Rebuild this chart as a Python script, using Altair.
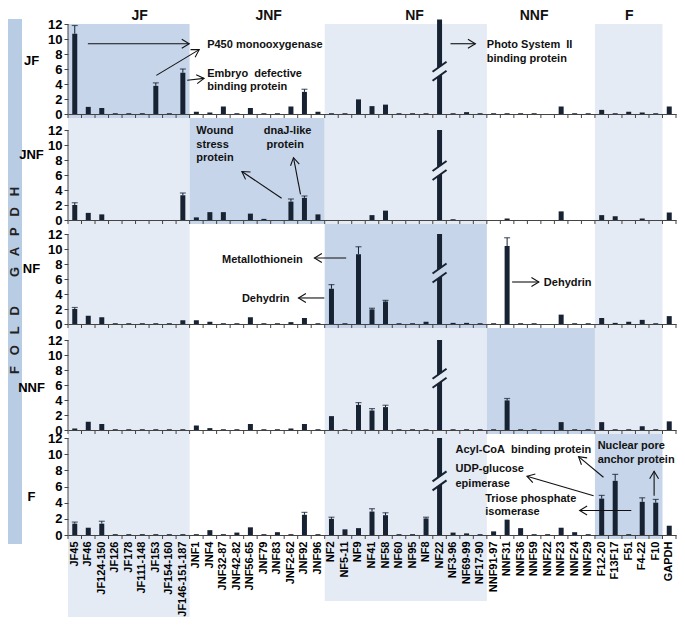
import math
import altair as alt
import pandas as pd

# ---------------- data ----------------
categories = ["JF45", "JF46", "JF124-150", "JF126", "JF178", "JF111-148", "JF153", "JF154-160", "JF146-151-187",
              "JNF1", "JNF4", "JNF32-87", "JNF42-82", "JNF56-65", "JNF79", "JNF83", "JNF2-62", "JNF92", "JNF96",
              "NF2", "NF5-11", "NF9", "NF41", "NF58", "NF60", "NF95", "NF8", "NF22", "NF3-96", "NF69-99", "NF17-90",
              "NNF91-97", "NNF31", "NNF36", "NNF59", "NNF22", "NNF23", "NNF24", "NNF29",
              "F12-20", "F13F17", "F51", "F4-22", "F10", "GAPDH"]

group_names = ["JF", "JNF", "NF", "NNF", "F"]
group_sizes = [9, 10, 12, 8, 5]
group_shaded = [True, False, True, False, True]
header_x = [5.3, 14.85, 25.65, 34.5, 41.55]

row_names = ["JF", "JNF", "NF", "NNF", "F"]

fold_JF = [10.7, 0.95, 0.8, 0.1, 0.1, 0.1, 3.75, 0.1, 5.5,
           0.3, 0.2, 1.0, 0.1, 0.8, 0.1, 0.1, 1.0, 2.95, 0.3,
           0.1, 0.1, 1.95, 1.05, 1.25, 0.1, 0.1, 0.1, 12.6, 0.1, 0.25, 0.1,
           0.1, 0.1, 0.1, 0.1, 0.0, 1.0, 0.1, 0.1,
           0.55, 0.1, 0.3, 0.2, 0.1, 1.0]
fold_JNF = [2.0, 0.95, 0.75, 0.0, 0.0, 0.0, 0.0, 0.0, 3.3,
            0.35, 1.05, 1.05, 0.0, 0.85, 0.15, 0.0, 2.45, 2.95, 0.75,
            0.0, 0.0, 0.0, 0.65, 1.25, 0.0, 0.0, 0.0, 12.0, 0.1, 0.0, 0.0,
            0.0, 0.2, 0.0, 0.0, 0.0, 1.15, 0.0, 0.0,
            0.65, 0.5, 0.0, 0.2, 0.0, 1.0]
fold_NF = [2.0, 1.1, 0.9, 0.1, 0.1, 0.1, 0.1, 0.1, 0.5,
           0.5, 0.3, 0.1, 0.1, 0.9, 0.1, 0.1, 0.25, 0.8, 0.1,
           4.7, 0.1, 9.3, 1.95, 3.0, 0.1, 0.1, 0.3, 12.0, 0.15, 0.15, 0.1,
           0.1, 10.4, 0.1, 0.1, 0.0, 1.25, 0.1, 0.1,
           0.8, 0.15, 0.3, 0.55, 0.1, 1.05]
fold_NNF = [0.2, 1.1, 0.8, 0.1, 0.1, 0.1, 0.1, 0.1, 0.1,
            0.6, 0.25, 0.1, 0.1, 0.8, 0.1, 0.1, 0.2, 0.8, 0.1,
            1.85, 0.1, 3.35, 2.6, 3.05, 0.1, 0.1, 0.1, 12.0, 0.1, 0.1, 0.1,
            0.1, 3.95, 0.1, 0.1, 0.0, 1.05, 0.1, 0.1,
            1.05, 0.1, 0.1, 0.5, 0.1, 1.15]
fold_F = [1.4, 0.9, 1.4, 0.1, 0.1, 0.1, 0.1, 0.1, 0.1,
          0.1, 0.6, 0.1, 0.3, 0.95, 0.1, 0.35, 0.1, 2.5, 0.1,
          2.0, 0.7, 0.85, 2.9, 2.45, 0.1, 0.1, 2.05, 12.0, 0.3, 0.2, 0.1,
          0.45, 1.9, 0.85, 0.1, 0.1, 0.9, 0.35, 0.1,
          4.5, 6.7, 0.1, 4.1, 4.0, 1.15]
fold_values = [fold_JF, fold_JNF, fold_NF, fold_NNF, fold_F]

err_JF = {"JF45": 1.1, "JF153": 0.4, "JF146-151-187": 0.5, "JNF92": 0.35}
err_JNF = {"JF45": 0.3, "JF146-151-187": 0.3, "JNF2-62": 0.35, "JNF92": 0.25}
err_NF = {"JF45": 0.2, "NF2": 0.55, "NF9": 1.0, "NF41": 0.15, "NF58": 0.15, "NNF31": 1.1}
err_NNF = {"NF9": 0.3, "NF41": 0.25, "NF58": 0.25, "NNF31": 0.25}
err_F = {"JF45": 0.2, "JF124-150": 0.3, "JNF92": 0.3, "NF2": 0.2, "NF41": 0.35, "NF58": 0.3,
         "NF8": 0.15, "F12-20": 0.4, "F13F17": 0.8, "F4-22": 0.5, "F10": 0.4}
errors = [err_JF, err_JNF, err_NF, err_NNF, err_F]

break_cat_x = 27.5
break_y = [5.7, 6.6, 6.8, 6.9, 6.7]

notes = [
    (0, 10.3, 9.23, "P450 monooxygenase"),
    (0, 10.3, 5.4, "Embryo  defective"),
    (0, 10.3, 3.56, "binding protein"),
    (0, 31.0, 9.23, "Photo System  II"),
    (0, 31.0, 7.4, "binding protein"),
    (1, 9.5, 11.9, "Wound"),
    (1, 9.5, 10.0, "stress"),
    (1, 9.5, 8.27, "protein"),
    (1, 14.49, 11.9, "dnaJ-like"),
    (1, 14.7, 10.0, "protein"),
    (2, 11.4, 8.53, "Metallothionein"),
    (2, 12.87, 3.33, "Dehydrin"),
    (2, 35.22, 5.47, "Dehydrin"),
    (4, 28.68, 10.55, "Acyl-CoA  binding protein"),
    (4, 39.2, 11.03, "Nuclear pore"),
    (4, 39.2, 9.33, "anchor protein"),
    (4, 28.68, 8.12, "UDP-glucose"),
    (4, 28.68, 6.3, "epimerase"),
    (4, 30.88, 4.48, "Triose phosphate"),
    (4, 30.88, 2.79, "isomerase"),
]
arrows = [
    (0, 1.47, 9.37, 8.97, 9.37),
    (0, 6.54, 5.15, 9.71, 8.58),
    (0, 8.82, 4.49, 10.07, 4.75),
    (0, 28.31, 9.37, 30.15, 9.37),
    (1, 15.81, 2.9, 12.87, 6.46),
    (1, 17.21, 3.43, 16.69, 8.31),
    (2, 20.59, 8.8, 18.24, 8.8),
    (2, 18.97, 3.47, 17.06, 3.47),
    (2, 32.87, 5.6, 34.85, 5.6),
    (4, 39.63, 7.15, 37.79, 9.7),
    (4, 38.9, 4.85, 33.97, 7.27),
    (4, 41.69, 3.03, 37.87, 3.03),
    (4, 43.38, 4.85, 43.38, 7.88),
]
NB = "\u00a0"
side_label = (NB * 3).join("FOLD") + NB * 8 + (NB * 3).join("GAPDH")
side_label_y = 31.5  # in F-panel units (centre of the vertical side label)

# ---------------- layout / style ----------------
FONT = "Liberation Sans"
PLOT_W = 608
STEP = PLOT_W / 45
SCALE = [7.5, 7.5, 7.5, 7.5, 97 / 12]
GAP = [0, 12, 10, 12, 4]
TICK = 4
TITLE_Y = [36, 36, 44, 59, 62]
LABEL_EXT = {"JF": 78, "NF": 62}
DARK = "#c6d5ea"
LIGHT = "#e4ebf5"
STRIP = "#b8cce4"
BAR = "#172233"
AX = "#444444"
TXT = "#111111"

ARROW_PATH = "M-1,-0.6 L0,0 L-1,0.6"
BRK_PATH = "M-0.7,0.05 L0.7,-0.95 M-0.7,0.95 L0.7,-0.05"
GAP_PATH = "M-0.3,-0.2 L0.3,-0.6 L0.3,0.22 L-0.3,0.62 Z"


def panel(k):
    S = SCALE[k]
    h = GAP[k] + 12 * S + TICK
    lo = -TICK / S
    hi = 12 + GAP[k] / S
    ysc = alt.Scale(domain=[lo, hi], nice=False, zero=False)
    yaxis = alt.Axis(values=list(range(0, 13, 2)), domain=False, grid=False, tickSize=4, tickColor=AX,
                     labelPadding=2, labelFontSize=13, labelFontWeight="bold", labelColor="#000000",
                     title=row_names[k], titleAngle=0, titleX=-37, titleY=TITLE_Y[k], titleAlign="center",
                     titleBaseline="middle", titleFontSize=13, titleFontWeight="bold", titleColor="#000000",
                     orient="left", zindex=1)
    xq = alt.Scale(domain=[0, 45], nice=False, zero=False)
    xb = alt.Scale(domain=categories, paddingInner=0, paddingOuter=0)
    xaxis = alt.Axis(orient="bottom", labels=(k == 4), ticks=False, domain=True, domainColor=AX,
                     offset=-TICK, title=None, labelAngle=270, labelFontSize=11, labelFontWeight="bold",
                     labelColor="#000000", labelPadding=6, labelOverlap=False, grid=False, zindex=1)

    def Yf(f):
        return alt.Y(f, type="quantitative", scale=ysc, axis=yaxis)

    def Xq(f):
        return alt.X(f, type="quantitative", scale=xq, axis=None)

    def Xb():
        return alt.X("cat:N", scale=xb, axis=xaxis)

    # ---- background group (quantitative x) ----
    bg_rows = []
    start = 0
    for j, (g, n, sh) in enumerate(zip(group_names, group_sizes, group_shaded)):
        end = start + n
        fill = DARK if j == k else (LIGHT if sh else None)
        if fill:
            ext = LABEL_EXT.get(g, 0) if (k == 4 and j != k) else 0
            bg_rows.append(dict(x0=start, x1=end, ytop=hi, ybot=lo - ext / S, fill=fill))
        start = end
    bg = alt.Chart(pd.DataFrame(bg_rows)).mark_rect().encode(
        x=Xq("x0"), x2="x1", y=Yf("ytop"), y2="ybot", color=alt.Color("fill:N", scale=None))
    strip_df = pd.DataFrame([dict(ytop=hi + (5 / S if k == 0 else 0), ybot=lo - (5 / S if k == 4 else 0))])
    strip = alt.Chart(strip_df).mark_rect(color=STRIP).encode(
        x=alt.value(-60), x2=alt.value(-46), y=Yf("ytop"), y2="ybot")
    yline = alt.Chart(pd.DataFrame([dict(y0=0, y1=12)])).mark_rule(color=AX, strokeWidth=1).encode(
        x=alt.value(0), y=Yf("y0"), y2="y1")
    tick_df = pd.DataFrame(dict(x=list(range(len(categories) + 1)), y0=[0.0] * (len(categories) + 1),
                                y1=[lo] * (len(categories) + 1)))
    xticks = alt.Chart(tick_df).mark_rule(color=AX, strokeWidth=1).encode(x=Xq("x"), y=Yf("y0"), y2="y1")
    bg_group = alt.layer(bg, strip, yline, xticks)

    # ---- bars group (band x) ----
    df = pd.DataFrame(dict(cat=categories, v=fold_values[k], base=[0.0] * len(categories)))
    bars = alt.Chart(df).mark_bar(size=5, color=BAR).encode(x=Xb(), y=Yf("v"), y2="base")
    err_df = pd.DataFrame([dict(cat=c, v=fold_values[k][categories.index(c)],
                                top=fold_values[k][categories.index(c)] + e)
                           for c, e in errors[k].items()])
    err_rule = alt.Chart(err_df).mark_rule(color=BAR, strokeWidth=1).encode(x=Xb(), y=Yf("v"), y2="top")
    err_tick = alt.Chart(err_df).mark_tick(color=BAR, size=6, thickness=1.2).encode(x=Xb(), y=Yf("top"))
    band_group = alt.layer(bars, err_rule, err_tick)

    # ---- annotation group (quantitative x) ----
    gap_fill = DARK if k == 2 else LIGHT
    brk_df = pd.DataFrame([dict(x=break_cat_x, y=break_y[k])])
    ann = [
        alt.Chart(brk_df).mark_point(shape=GAP_PATH, filled=True, color=gap_fill, size=400, opacity=1,
                                     strokeWidth=0).encode(x=Xq("x"), y=Yf("y")),
        alt.Chart(brk_df).mark_point(shape=BRK_PATH, filled=False, color=BAR, size=400, opacity=1,
                                     strokeWidth=2).encode(x=Xq("x"), y=Yf("y")),
    ]
    arr = [a for a in arrows if a[0] == k]
    if arr:
        rows = []
        for _, x1, y1, x2, y2 in arr:
            dxp = (x2 - x1) * STEP
            dyp = -(y2 - y1) * S
            ang = math.degrees(math.atan2(dyp, dxp)) % 360
            rows.append(dict(x1=x1, y1=y1, x2=x2, y2=y2, ang=ang))
        adf = pd.DataFrame(rows)
        ann.append(alt.Chart(adf).mark_rule(color=TXT, strokeWidth=1.1).encode(
            x=Xq("x1"), x2="x2", y=Yf("y1"), y2="y2"))
        ann.append(alt.Chart(adf).mark_point(shape=ARROW_PATH, filled=False, color=TXT, size=220,
                                             strokeWidth=1.1, opacity=1).encode(
            x=Xq("x2"), y=Yf("y2"), angle=alt.Angle("ang:Q", scale=None)))
    nts = [n for n in notes if n[0] == k]
    if nts:
        ndf = pd.DataFrame([dict(x=x, y=y, t=t.replace("  ", NB + NB)) for _, x, y, t in nts])
        ann.append(alt.Chart(ndf).mark_text(align="left", baseline="middle", fontSize=11,
                                            fontWeight="bold", color=TXT).encode(
            x=Xq("x"), y=Yf("y"), text="t:N"))
    if k == 0:
        hdf = pd.DataFrame(dict(x=header_x, y=[12 + 4 / S] * 5, t=group_names))
        ann.append(alt.Chart(hdf).mark_text(align="center", baseline="alphabetic", fontSize=14,
                                            fontWeight="bold", color=TXT).encode(
            x=Xq("x"), y=Yf("y"), text="t:N"))
    if k == 4:
        sdf = pd.DataFrame([dict(y=side_label_y, t=side_label)])
        ann.append(alt.Chart(sdf).mark_text(align="center", baseline="middle", fontSize=13,
                                            fontWeight="bold", color="#222222", angle=270).encode(
            x=alt.value(-53), y=Yf("y"), text="t:N"))
    ann_group = alt.layer(*ann)

    return alt.layer(bg_group, band_group, ann_group).resolve_scale(x="independent").properties(
        width=PLOT_W, height=h)


chart = alt.vconcat(*[panel(k) for k in range(5)], spacing=0, bounds="flush").properties(
    padding=0
).configure_view(stroke=None).configure_axis(labelFont=FONT, titleFont=FONT).configure_text(font=FONT)

chart.save("out.html", embed_options={"renderer": "svg", "actions": False})
